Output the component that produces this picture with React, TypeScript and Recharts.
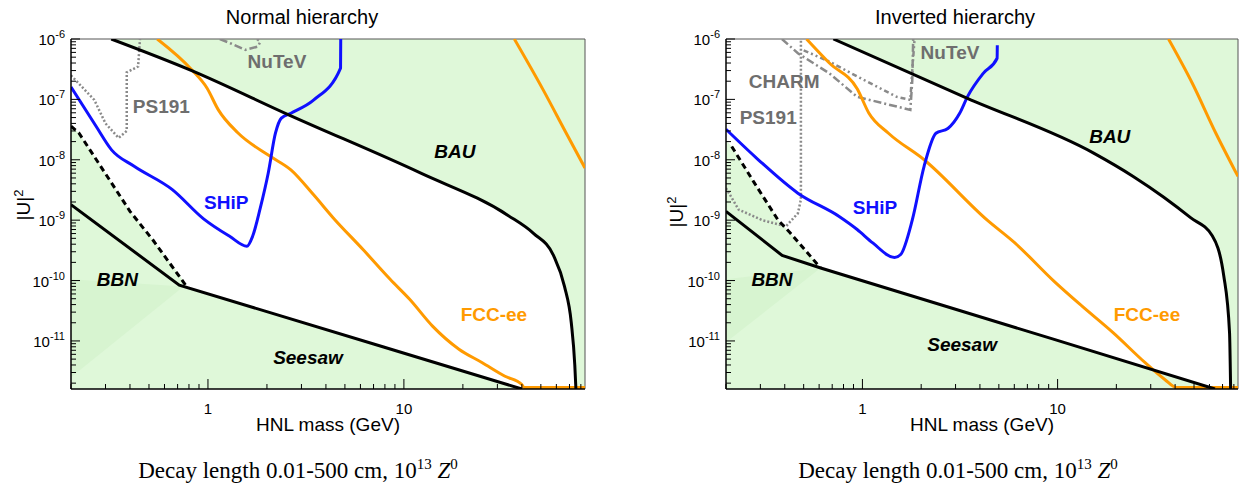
import React from 'react';
import { ComposedChart, Line, Area, XAxis, YAxis, ReferenceLine, ReferenceDot } from 'recharts';

// ---------- axes ----------
const X_MIN = 0.2;
const X_MAX = 84;
const Y_MIN = 1.6e-12;
const Y_MAX = 1e-6;

const xTickValues = [0.2, 0.3, 0.4, 0.5, 0.6, 0.7, 0.8, 0.9, 1, 2, 3, 4, 5, 6, 7, 8, 9, 10, 20, 30, 40, 50, 60, 70, 80];
const xTickLabels: Record<string, string> = { '1': '1', '10': '10' };
const yDecades = [-12, -11, -10, -9, -8, -7];
const yMantissas = [1, 2, 3, 4, 5, 6, 7, 8, 9];
const yLabelExponents: Record<string, string> = { '-11': '-11', '-10': '-10', '-9': '-9', '-8': '-8', '-7': '-7', '-6': '-6' };

const titles = ['Normal hierarchy', 'Inverted hierarchy'];
const xAxisTitle = 'HNL mass (GeV)';
const captionText = 'Decay length 0.01-500 cm, 10';

// ---------- Normal hierarchy ----------
const nhBauM = [0.321, 0.826, 2.6, 12.2, 34, 46, 58, 66, 71.5, 74.5, 75.5];
const nhBauU = [1e-6, 3.0e-7, 5.5e-8, 6.0e-9, 1.2e-9, 6e-10, 2.6e-10, 8e-11, 2e-11, 4e-12, 1.6e-12];

const nhSeesawM = [0.2, 0.714, 7.8, 40];
const nhSeesawU = [1.8e-9, 8.4e-11, 8.0e-12, 1.6e-12];

const nhDashM = [0.2, 0.219, 0.294, 0.40, 0.526, 0.78];
const nhDashU = [3.6e-8, 2.8e-8, 6.5e-9, 1.4e-9, 4.6e-10, 7.9e-11];

const nhBbnM = [0.2, 0.219, 0.294, 0.40, 0.526, 0.714, 0.78];
const nhBbnHi = [3.6e-8, 2.8e-8, 6.5e-9, 1.4e-9, 4.6e-10, 1.25e-10, 7.9e-11];
const nhBbnLo = [1.8e-9, 1.44e-9, 7.1e-10, 3.4e-10, 1.73e-10, 8.4e-11, 7.7e-11];

const nhOverlapM = [0.2, 0.75];
const nhOverlapLo = [2.5e-12, 8e-11];
const nhOverlapHi = [1.05e-10, 8e-11];

const nhShipM = [0.2, 0.269, 0.322, 0.42, 0.658, 0.95, 1.29, 1.58, 1.69, 1.85, 2.03, 2.21, 2.37, 2.65, 3.47, 4.75, 4.76];
const nhShipU = [1.6e-7, 3.55e-8, 1.46e-8, 7.8e-9, 3.2e-9, 1.05e-9, 5.4e-10, 3.7e-10, 5.4e-10, 1.6e-9, 6e-9, 2.75e-8, 4.9e-8, 5.9e-8, 9.8e-8, 3.3e-7, 1e-6];

const nhFccM = [0.551, 0.826, 0.99, 1.13, 1.42, 2.07, 2.65, 3.47, 4.35, 6.22, 8.53, 10.7, 14, 19.1, 25, 32.8, 40, 41, 84];
const nhFccU = [1e-6, 3.1e-7, 1.53e-7, 6.7e-8, 2.8e-8, 1.15e-8, 6.8e-9, 2.6e-9, 1.1e-9, 3.2e-10, 1.04e-10, 4.9e-11, 1.76e-11, 7.3e-12, 4.4e-12, 2.6e-12, 1.9e-12, 1.7e-12, 1.7e-12];

const nhFcc2M = [36.6, 51.3, 67.2, 84];
const nhFcc2U = [1e-6, 1.45e-7, 2.8e-8, 7.3e-9];

const nhNutevM = [1.15, 1.3, 1.55, 1.8, 1.85, 1.78];
const nhNutevU = [1e-6, 8.5e-7, 6.6e-7, 7.5e-7, 9e-7, 1e-6];

const nhPs191M = [0.2, 0.263, 0.30, 0.35, 0.385, 0.385, 0.44, 0.45];
const nhPs191U = [2.5e-7, 9.8e-8, 4e-8, 2.3e-8, 3e-8, 2.8e-7, 3.5e-7, 1e-6];

const nhLabelText = ['NuTeV', 'PS191', 'BAU', 'SHiP', 'BBN', 'FCC-ee', 'Seesaw'];
const nhLabelM = [2.25, 0.578, 18.2, 1.24, 0.345, 28.8, 3.24];
const nhLabelU = [4.2e-7, 7.5e-8, 1.36e-8, 1.95e-9, 1.04e-10, 2.75e-11, 5.4e-12];

// ---------- Inverted hierarchy ----------
const ihBauM = [0.71, 3.45, 15.3, 24.4, 35, 48, 62, 71, 76, 77];
const ihBauU = [1e-6, 1.04e-7, 1.29e-8, 5.3e-9, 2.4e-9, 1.1e-9, 5.5e-10, 1.2e-10, 1.4e-11, 1.6e-12];

const ihSeesawM = [0.2, 0.388, 0.617, 9.6, 64];
const ihSeesawU = [1.4e-9, 2.6e-10, 1.6e-10, 1.06e-11, 1.6e-12];

const ihDashM = [0.214, 0.28, 0.37, 0.426, 0.61];
const ihDashU = [1.66e-8, 4.1e-9, 1e-9, 6.2e-10, 1.62e-10];

const ihBbnM = [0.2, 0.214, 0.28, 0.37, 0.426, 0.61];
const ihBbnHi = [2.1e-8, 1.66e-8, 4.1e-9, 1e-9, 6.2e-10, 1.62e-10];
const ihBbnLo = [1.4e-9, 1.18e-9, 6e-10, 2.94e-10, 2.36e-10, 1.62e-10];

const ihOverlapM = [0.2, 0.61];
const ihOverlapLo = [9.5e-12, 1.62e-10];
const ihOverlapHi = [1.05e-10, 1.62e-10];

const ihShipM = [0.2, 0.293, 0.467, 0.76, 0.94, 1.13, 1.46, 1.57, 1.8, 2.07, 2.38, 2.74, 3.15, 3.45, 4.16, 4.9, 4.91];
const ihShipU = [3.2e-8, 1e-8, 2.8e-9, 1.15e-9, 7.0e-10, 4.2e-10, 2.4e-10, 2.7e-10, 1e-9, 7.8e-9, 2.75e-8, 3.3e-8, 5.9e-8, 1.1e-7, 2.7e-7, 4.8e-7, 7.9e-7];

const ihFccM = [0.517, 0.677, 0.94, 1.08, 1.36, 2.07, 4.36, 6.04, 9.6, 13.3, 19.3, 28, 35.4, 40.6, 84];
const ihFccU = [1e-6, 4e-7, 1.5e-7, 5.9e-8, 2.75e-8, 1e-8, 1e-9, 4.2e-10, 9.7e-11, 3.8e-11, 1.36e-11, 4.4e-12, 2.3e-12, 1.7e-12, 1.7e-12];

const ihFcc2M = [37, 49, 64.7, 84];
const ihFcc2U = [1e-6, 1.85e-7, 2.75e-8, 5.3e-9];

const ihCharmM = [0.387, 0.467, 0.677, 0.94, 1.5, 1.76, 1.8, 1.82];
const ihCharmU = [1e-6, 5.8e-7, 2.7e-7, 1.1e-7, 7.6e-8, 6.7e-8, 2e-7, 1e-6];

const ihNutevM = [0.5, 0.68, 0.94, 1.5, 1.76, 1.8, 1.85];
const ihNutevU = [6.5e-7, 4.2e-7, 2.4e-7, 1.1e-7, 9.8e-8, 3e-7, 1e-6];

const ihPs191M = [0.2, 0.232, 0.307, 0.406, 0.467, 0.484, 0.484];
const ihPs191U = [3.4e-9, 1.5e-9, 1e-9, 7.9e-10, 1.3e-9, 2.2e-9, 1e-6];

const ihLabelText = ['NuTeV', 'CHARM', 'PS191', 'BAU', 'SHiP', 'BBN', 'FCC-ee', 'Seesaw'];
const ihLabelM = [2.81, 0.397, 0.329, 18.5, 1.16, 0.344, 28.7, 3.24];
const ihLabelU = [5.9e-7, 1.95e-7, 5.1e-8, 2.4e-8, 1.6e-9, 1.04e-10, 2.75e-11, 8.7e-12];

// ---------- styling ----------
const GREEN = '#dff8d9';
const GREEN_DARK = '#d7f4d0';
const BLUE = '#1010ff';
const ORANGE = '#ff9a00';
const GREY = '#8a8a8a';
const LABEL_GREY = '#6e6e6e';
const SANS = "'Liberation Sans', Arial, Helvetica, sans-serif";
const SERIF = "'Liberation Serif', 'Times New Roman', serif";

const labelStyle: Record<string, { fill: string; italic: boolean }> = {
  NuTeV: { fill: LABEL_GREY, italic: false },
  PS191: { fill: LABEL_GREY, italic: false },
  CHARM: { fill: LABEL_GREY, italic: false },
  BAU: { fill: '#000', italic: true },
  SHiP: { fill: BLUE, italic: false },
  BBN: { fill: '#000', italic: true },
  'FCC-ee': { fill: ORANGE, italic: false },
  Seesaw: { fill: '#000', italic: true },
};

// ---------- helpers ----------
const pts = (ms: number[], us: number[]) => ms.map((m, i) => ({ m, u: us[i] }));
const band = (ms: number[], lo: number[], hi: number[]) => ms.map((m, i) => ({ m, band: [lo[i], hi[i]] }));

const yTickValues: number[] = [];
yDecades.forEach((e) => {
  yMantissas.forEach((s) => {
    const v = Number(`${s}e${e}`);
    if (v >= Y_MIN && v <= Y_MAX) yTickValues.push(v);
  });
});
yTickValues.push(Y_MAX);

const isDecade = (v: number) => Math.abs(Math.log10(v) - Math.round(Math.log10(v))) < 1e-6;

const XTick = (props: any) => {
  const { x, y, payload } = props;
  const v = payload.value;
  const major = isDecade(v);
  const lbl = xTickLabels[String(v)];
  return (
    <g>
      <line x1={x} x2={x} y1={y} y2={y - (major ? 10 : 5)} stroke="#000" strokeWidth={1} />
      {lbl && (
        <text x={x} y={y + 25} textAnchor="middle" fontSize={15} fontFamily={SANS} fill="#000">
          {lbl}
        </text>
      )}
    </g>
  );
};

const YTick = (props: any) => {
  const { x, y, payload } = props;
  const v = payload.value;
  const major = isDecade(v);
  const lbl = major ? yLabelExponents[String(Math.round(Math.log10(v)))] : undefined;
  return (
    <g>
      <line x1={x} x2={x + (major ? 9 : 5)} y1={y} y2={y} stroke="#000" strokeWidth={1} />
      {lbl && (
        <text x={x - 6} y={y + 6} textAnchor="end" fontSize={15} fontFamily={SANS} fill="#000">
          10
          <tspan dy={-7} fontSize={11}>
            {lbl}
          </tspan>
        </text>
      )}
    </g>
  );
};

const LabelShape = (text: string) => (props: any) => {
  const st = labelStyle[text];
  return (
    <text
      x={props.cx}
      y={props.cy}
      textAnchor="middle"
      dominantBaseline="central"
      fontSize={19}
      fontWeight="bold"
      fontStyle={st.italic ? 'italic' : 'normal'}
      fontFamily={SANS}
      fill={st.fill}
    >
      {text}
    </text>
  );
};

type PanelData = {
  bauBand: any[];
  seesawBand: any[];
  bbnBand: any[];
  overlapBand: any[];
  bau: any[];
  seesaw: any[];
  dash: any[];
  ship: any[];
  fcc: any[];
  fcc2: any[];
  greys: { data: any[]; dash: string; width: number }[];
  labels: { text: string; m: number; u: number }[];
};

const Panel = ({ d, width, margin }: { d: PanelData; width: number; margin: any }) => (
  <ComposedChart width={width} height={488} margin={margin}>
    <XAxis
      type="number"
      dataKey="m"
      scale="log"
      domain={[X_MIN, X_MAX]}
      allowDataOverflow
      ticks={xTickValues}
      interval={0}
      tick={<XTick />}
      tickLine={false}
      tickSize={0}
      tickMargin={0}
      height={40}
      axisLine={{ stroke: '#000', strokeWidth: 1.5 }}
    />
    <YAxis
      type="number"
      dataKey="u"
      scale="log"
      domain={[Y_MIN, Y_MAX]}
      allowDataOverflow
      ticks={yTickValues}
      interval={0}
      tick={<YTick />}
      tickLine={false}
      tickSize={0}
      tickMargin={0}
      width={60}
      axisLine={{ stroke: '#000', strokeWidth: 1.5 }}
    />
    <Area data={d.bauBand} dataKey="band" type="monotone" stroke="none" fill={GREEN} fillOpacity={1} isAnimationActive={false} />
    <Area data={d.seesawBand} dataKey="band" type="linear" stroke="none" fill={GREEN} fillOpacity={1} isAnimationActive={false} />
    <Area data={d.bbnBand} dataKey="band" type="linear" stroke="none" fill={GREEN} fillOpacity={1} isAnimationActive={false} />
    <Area data={d.overlapBand} dataKey="band" type="linear" stroke="none" fill={GREEN_DARK} fillOpacity={1} isAnimationActive={false} />
    <ReferenceLine y={Y_MAX} stroke="#555" strokeWidth={1} />
    <ReferenceLine x={X_MAX} stroke="#555" strokeWidth={1} />
    {d.greys.map((g, i) => (
      <Line key={i} data={g.data} dataKey="u" type="linear" stroke={GREY} strokeWidth={g.width} strokeDasharray={g.dash} dot={false} activeDot={false} isAnimationActive={false} />
    ))}
    <Line data={d.fcc} dataKey="u" type="monotone" stroke={ORANGE} strokeWidth={3} dot={false} activeDot={false} isAnimationActive={false} />
    <Line data={d.fcc2} dataKey="u" type="monotone" stroke={ORANGE} strokeWidth={3} dot={false} activeDot={false} isAnimationActive={false} />
    <Line data={d.ship} dataKey="u" type="monotone" stroke={BLUE} strokeWidth={3} dot={false} activeDot={false} isAnimationActive={false} />
    <Line data={d.dash} dataKey="u" type="linear" stroke="#000" strokeWidth={3} strokeDasharray="6 4" dot={false} activeDot={false} isAnimationActive={false} />
    <Line data={d.seesaw} dataKey="u" type="linear" stroke="#000" strokeWidth={3} dot={false} activeDot={false} isAnimationActive={false} />
    <Line data={d.bau} dataKey="u" type="monotone" stroke="#000" strokeWidth={3} dot={false} activeDot={false} isAnimationActive={false} />
    {d.labels.map((l) => (
      <ReferenceDot key={l.text} x={l.m} y={l.u} r={0} shape={LabelShape(l.text)} />
    ))}
  </ComposedChart>
);

const nhData: PanelData = {
  bauBand: band([...nhBauM, X_MAX], [...nhBauU, Y_MIN], [...nhBauM, X_MAX].map(() => Y_MAX)),
  seesawBand: band(nhSeesawM, nhSeesawM.map(() => Y_MIN), nhSeesawU),
  bbnBand: band(nhBbnM, nhBbnLo, nhBbnHi),
  overlapBand: band(nhOverlapM, nhOverlapLo, nhOverlapHi),
  bau: pts(nhBauM, nhBauU),
  seesaw: pts(nhSeesawM, nhSeesawU),
  dash: pts(nhDashM, nhDashU),
  ship: pts(nhShipM, nhShipU),
  fcc: pts(nhFccM, nhFccU),
  fcc2: pts(nhFcc2M, nhFcc2U),
  greys: [
    { data: pts(nhNutevM, nhNutevU), dash: '8 3 2 3', width: 2.5 },
    { data: pts(nhPs191M, nhPs191U), dash: '2 2', width: 2.5 },
  ],
  labels: nhLabelText.map((t, i) => ({ text: t, m: nhLabelM[i], u: nhLabelU[i] })),
};

const ihData: PanelData = {
  bauBand: band([...ihBauM, X_MAX], [...ihBauU, Y_MIN], [...ihBauM, X_MAX].map(() => Y_MAX)),
  seesawBand: band(ihSeesawM, ihSeesawM.map(() => Y_MIN), ihSeesawU),
  bbnBand: band(ihBbnM, ihBbnLo, ihBbnHi),
  overlapBand: band(ihOverlapM, ihOverlapLo, ihOverlapHi),
  bau: pts(ihBauM, ihBauU),
  seesaw: pts(ihSeesawM, ihSeesawU),
  dash: pts(ihDashM, ihDashU),
  ship: pts(ihShipM, ihShipU),
  fcc: pts(ihFccM, ihFccU),
  fcc2: pts(ihFcc2M, ihFcc2U),
  greys: [
    { data: pts(ihCharmM, ihCharmU), dash: '8 3 2 3', width: 2.5 },
    { data: pts(ihNutevM, ihNutevU), dash: '5 3 2 3 2 3', width: 2.5 },
    { data: pts(ihPs191M, ihPs191U), dash: '2 2', width: 2.5 },
  ],
  labels: ihLabelText.map((t, i) => ({ text: t, m: ihLabelM[i], u: ihLabelU[i] })),
};

const Caption = ({ cx }: { cx: number }) => (
  <text x={cx} y={478} textAnchor="middle" fontSize={23} fontFamily={SERIF} fill="#000">
    {captionText}
    <tspan dy={-9} fontSize={15}>13</tspan>
    <tspan dy={9}> </tspan>
    <tspan fontStyle="italic">Z</tspan>
    <tspan dy={-9} fontSize={15}>0</tspan>
  </text>
);

const YTitle = ({ x, y }: { x: number; y: number }) => (
  <text transform={`translate(${x},${y}) rotate(-90)`} textAnchor="middle" fontSize={19} fontFamily={SANS} fill="#000">
    |U|
    <tspan dy={-7} fontSize={13}>2</tspan>
  </text>
);

export default function App() {
  return (
    <div style={{ position: 'absolute', left: 0, top: 0, width: 1239, height: 488, background: '#fff', overflow: 'hidden' }}>
      <div style={{ position: 'absolute', left: 0, top: 0 }}>
        <Panel d={nhData} width={620} margin={{ top: 39, right: 35, bottom: 59, left: 11 }} />
      </div>
      <div style={{ position: 'absolute', left: 620, top: 0 }}>
        <Panel d={ihData} width={619} margin={{ top: 39, right: 1, bottom: 59, left: 46 }} />
      </div>
      <svg width={1239} height={488} style={{ position: 'absolute', left: 0, top: 0, pointerEvents: 'none' }}>
        <text x={302} y={24} textAnchor="middle" fontSize={20} fontFamily={SANS} fill="#000">{titles[0]}</text>
        <text x={955} y={24} textAnchor="middle" fontSize={20} fontFamily={SANS} fill="#000">{titles[1]}</text>
        <text x={328} y={431} textAnchor="middle" fontSize={19} fontFamily={SANS} fill="#000">{xAxisTitle}</text>
        <text x={982} y={431} textAnchor="middle" fontSize={19} fontFamily={SANS} fill="#000">{xAxisTitle}</text>
        <YTitle x={30} y={205} />
        <YTitle x={683} y={212} />
        <Caption cx={298} />
        <Caption cx={958} />
      </svg>
    </div>
  );
}
